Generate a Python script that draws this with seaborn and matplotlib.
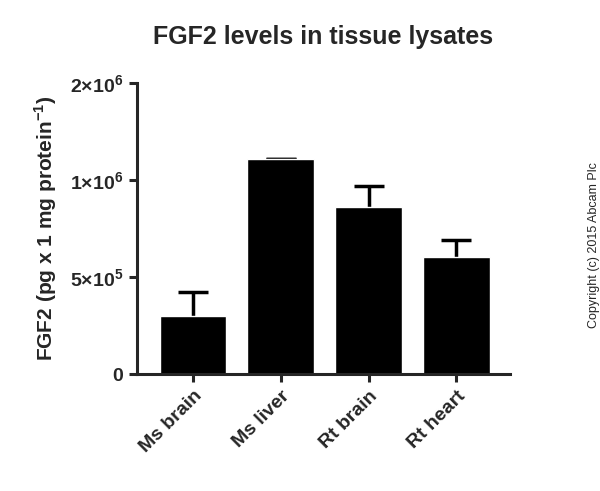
import numpy as np
import pandas as pd
import matplotlib
matplotlib.use("Agg")
import matplotlib.pyplot as plt
import seaborn as sns

# data
tissues = ["Ms brain", "Ms liver", "Rt brain", "Rt heart"]
levels = [3.0e5, 1.22e6, 8.6e5, 6.05e5]
sem_up = [1.25e5, 0.0, 1.1e5, 0.88e5]
tick_vals = [0, 5e5, 1e6, 2e6]
tick_text = [r"$\mathbf{0}$", r"$\mathbf{5{\times}10^5}$",
             r"$\mathbf{1{\times}10^6}$", r"$\mathbf{2{\times}10^6}$"]

df = pd.DataFrame({"tissue": tissues, "level": levels})

# segmented y axis: second segment (1e6..2e6) compressed 2x
def fwd(y):
    y = np.asarray(y, dtype=float)
    return np.where(y <= 1e6, y, 1e6 + (y - 1e6) / 2)

def inv(y):
    y = np.asarray(y, dtype=float)
    return np.where(y <= 1e6, y, 1e6 + (y - 1e6) * 2)

sns.set_style("ticks")
plt.rcParams["font.family"] = "Liberation Sans"
plt.rcParams["mathtext.fontset"] = "custom"
plt.rcParams["mathtext.bf"] = "Liberation Sans:bold"
plt.rcParams["mathtext.rm"] = "Liberation Sans"
fig = plt.figure(figsize=(6, 4.91), dpi=100)
ax = fig.add_axes([0.228, 0.238, 0.622, 0.593])

# error bars drawn under the bars so only the upper half shows
ax.errorbar(range(len(tissues)), levels, yerr=sem_up, fmt="none",
            ecolor="black", elinewidth=2.5, capsize=11, capthick=2.5, zorder=0)
sns.barplot(data=df, x="tissue", y="level", color="black", width=0.76,
            saturation=1, ax=ax, zorder=2)

ax.set_yscale("function", functions=(fwd, inv))
ax.set_ylim(0, 2e6)
ax.set_xlim(-0.64, 3.61)
ax.set_yticks(tick_vals)
ax.set_yticklabels(tick_text, fontsize=14)
ax.yaxis.set_minor_locator(matplotlib.ticker.NullLocator())
ax.set_xticks(range(len(tissues)))
ax.set_xticklabels(tissues, rotation=45, ha="right", rotation_mode="anchor",
                   fontsize=14, fontweight="bold")
ax.set_xlabel("")
ax.set_ylabel(r"FGF2 (pg x 1 mg protein$^{\mathbf{-1}}$)", fontsize=15,
              fontweight="bold", labelpad=8)
ax.set_title("FGF2 levels in tissue lysates", fontsize=18, fontweight="bold", pad=28)

for s in ["top", "right"]:
    ax.spines[s].set_visible(False)
for s in ["left", "bottom"]:
    ax.spines[s].set_linewidth(2.2)
ax.tick_params(width=2.2, length=6)

fig.text(0.99, 0.5, "Copyright (c) 2015 Abcam Plc", rotation=90,
         fontsize=9, va="center", ha="center")

plt.savefig("out.png", dpi=100)
